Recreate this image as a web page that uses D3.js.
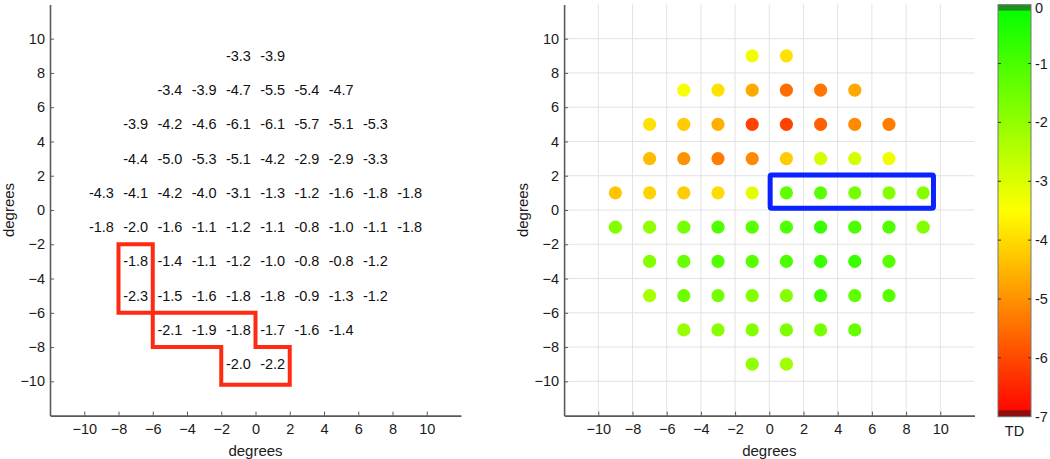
<!DOCTYPE html>
<html><head><meta charset="utf-8">
<script src="https://cdn.jsdelivr.net/npm/d3@7"></script>
<style>
body{margin:0;background:#fff;}
svg text{font-family:"Liberation Sans",Arial,sans-serif;}
</style></head>
<body><svg id="c" width="1050" height="459"></svg>
<script>
// Data: total deviation (TD) values per row, y coordinate and x coordinates
const rowY = [9, 7, 5, 3, 1, -1, -3, -5, -7, -9];
const rowX = [
  [-1, 1],
  [-5, -3, -1, 1, 3, 5],
  [-7, -5, -3, -1, 1, 3, 5, 7],
  [-7, -5, -3, -1, 1, 3, 5, 7],
  [-9, -7, -5, -3, -1, 1, 3, 5, 7, 9],
  [-9, -7, -5, -3, -1, 1, 3, 5, 7, 9],
  [-7, -5, -3, -1, 1, 3, 5, 7],
  [-7, -5, -3, -1, 1, 3, 5, 7],
  [-5, -3, -1, 1, 3, 5],
  [-1, 1]
];
const rowValues = [
  [-3.3, -3.9],
  [-3.4, -3.9, -4.7, -5.5, -5.4, -4.7],
  [-3.9, -4.2, -4.6, -6.1, -6.1, -5.7, -5.1, -5.3],
  [-4.4, -5.0, -5.3, -5.1, -4.2, -2.9, -2.9, -3.3],
  [-4.3, -4.1, -4.2, -4.0, -3.1, -1.3, -1.2, -1.6, -1.8, -1.8],
  [-1.8, -2.0, -1.6, -1.1, -1.2, -1.1, -0.8, -1.0, -1.1, -1.8],
  [-1.8, -1.4, -1.1, -1.2, -1.0, -0.8, -0.8, -1.2],
  [-2.3, -1.5, -1.6, -1.8, -1.8, -0.9, -1.3, -1.2],
  [-2.1, -1.9, -1.8, -1.7, -1.6, -1.4],
  [-2.0, -2.2]
];
const axisTicks = [-10, -8, -6, -4, -2, 0, 2, 4, 6, 8, 10];
const colorTicks = [0, -1, -2, -3, -4, -5, -6, -7];
// Highlight outlines (data coordinates)
const redOutline = [[-8,-2],[-6,-2],[-6,-8],[-2,-8],[-2,-10.2],[2,-10.2],[2,-8],[0,-8],[0,-6],[-8,-6]];
const blueBox = {x0: 0.05, x1: 9.6, y0: 0.1, y1: 2.05};

const points = [];
rowY.forEach((y, i) => rowX[i].forEach((x, j) => points.push({x, y, v: rowValues[i][j]})));

const svg = d3.select("#c");
const FONT = 14.5;
const color = d3.scaleLinear().domain([-7, -3.5, 0]).range(["#ff0000", "#ffff00", "#00ff00"]).clamp(true);

function panel(x0, x1) {
  const xs = d3.scaleLinear().domain([-12, 12]).range([x0, x1]);
  const ys = d3.scaleLinear().domain([-12, 12]).range([415.6, 4.4]);
  return {xs, ys};
}

function drawAxes(g, xs, ys, labelX) {
  const ax = g.append("g").attr("transform", `translate(0,${ys(-12)})`)
    .call(d3.axisBottom(xs).tickValues(axisTicks).tickSizeInner(-4).tickSizeOuter(0).tickPadding(8));
  const ay = g.append("g").attr("transform", `translate(${xs(-12)},0)`)
    .call(d3.axisLeft(ys).tickValues(axisTicks).tickSizeInner(-4).tickSizeOuter(0).tickPadding(5));
  [ax, ay].forEach(a => {
    a.select(".domain").attr("stroke", "#5a5a5a").attr("stroke-width", 1.6);
    a.selectAll(".tick line").attr("stroke", "#5a5a5a");
    a.selectAll(".tick text").attr("font-size", FONT).attr("fill", "#1a1a1a")
      .attr("font-family", "Liberation Sans, Arial, sans-serif");
  });
  g.append("text").attr("x", xs(0)).attr("y", 450).attr("text-anchor", "middle")
    .attr("dominant-baseline", "central").attr("font-size", FONT + 0.5).attr("fill", "#1a1a1a").text("degrees");
  g.append("text").attr("transform", `translate(${labelX},${ys(0)}) rotate(-90)`)
    .attr("text-anchor", "middle").attr("dominant-baseline", "central")
    .attr("font-size", FONT + 0.5).attr("fill", "#1a1a1a").text("degrees");
}

// Left panel
{
  const {xs, ys} = panel(50, 461);
  const g = svg.append("g");
  g.selectAll("text.val").data(points).join("text").attr("class", "val")
    .attr("x", d => xs(d.x)).attr("y", d => ys(d.y))
    .attr("text-anchor", "middle").attr("dominant-baseline", "central")
    .attr("font-size", FONT).attr("fill", "#111")
    .text(d => d.v.toFixed(1));
  g.append("path")
    .attr("d", d3.line().x(d => xs(d[0])).y(d => ys(d[1]))(redOutline) + "Z")
    .attr("fill", "none").attr("stroke", "#ff2a12").attr("stroke-width", 4).attr("stroke-linejoin", "miter");
  drawAxes(g, xs, ys, 8);
}

// Right panel
{
  const {xs, ys} = panel(564.1, 974.5);
  const g = svg.append("g");
  g.selectAll("line.gx").data(axisTicks).join("line")
    .attr("x1", d => xs(d)).attr("x2", d => xs(d)).attr("y1", ys(-12)).attr("y2", ys(12))
    .attr("stroke", "#e3e3e3").attr("stroke-width", 1);
  g.selectAll("line.gy").data(axisTicks).join("line")
    .attr("y1", d => ys(d)).attr("y2", d => ys(d)).attr("x1", xs(-12)).attr("x2", xs(12))
    .attr("stroke", "#e3e3e3").attr("stroke-width", 1);
  g.selectAll("circle").data(points).join("circle")
    .attr("cx", d => xs(d.x)).attr("cy", d => ys(d.y)).attr("r", 6.6)
    .attr("fill", d => color(d.v));
  g.append("rect")
    .attr("x", xs(blueBox.x0)).attr("y", ys(blueBox.y1))
    .attr("width", xs(blueBox.x1) - xs(blueBox.x0)).attr("height", ys(blueBox.y0) - ys(blueBox.y1))
    .attr("rx", 1.5).attr("fill", "none").attr("stroke", "#0a22ff").attr("stroke-width", 5);
  drawAxes(g, xs, ys, 522);
}

// Colorbar
{
  const cs = d3.scaleLinear().domain([-7, 0]).range([416.7, 4.7]);
  const bx = 998, bw = 33;
  const defs = svg.append("defs");
  const grad = defs.append("linearGradient").attr("id", "cb").attr("x1", 0).attr("x2", 0).attr("y1", 1).attr("y2", 0);
  d3.range(-7, 0.01, 0.5).forEach(v => {
    grad.append("stop").attr("offset", (v + 7) / 7).attr("stop-color", color(v));
  });
  const g = svg.append("g");
  g.append("rect").attr("x", bx).attr("y", cs(0)).attr("width", bw).attr("height", cs(-7) - cs(0))
    .attr("fill", "url(#cb)");
  g.append("rect").attr("x", bx).attr("y", cs(0)).attr("width", bw).attr("height", cs(-0.1) - cs(0))
    .attr("fill", "#1f8f1f");
  g.append("rect").attr("x", bx).attr("y", cs(-6.89)).attr("width", bw).attr("height", cs(-7) - cs(-6.89))
    .attr("fill", "#8e0d0d");
  g.append("rect").attr("x", bx).attr("y", cs(0)).attr("width", bw).attr("height", cs(-7) - cs(0))
    .attr("fill", "none").attr("stroke", "#777").attr("stroke-width", 1);
  const ticks = colorTicks.filter(v => v !== 0 && v !== -7);
  g.selectAll("line.tl").data(ticks).join("line")
    .attr("x1", bx).attr("x2", bx + 3).attr("y1", d => cs(d)).attr("y2", d => cs(d)).attr("stroke", "#333");
  g.selectAll("line.tr").data(ticks).join("line")
    .attr("x1", bx + bw - 3).attr("x2", bx + bw).attr("y1", d => cs(d)).attr("y2", d => cs(d)).attr("stroke", "#333");
  g.selectAll("text.cl").data(colorTicks).join("text")
    .attr("x", bx + bw + 4).attr("y", d => d === 0 ? 8 : cs(d)).attr("dominant-baseline", "central")
    .attr("font-size", FONT).attr("fill", "#1a1a1a").text(d => d === 0 ? "0" : "-" + Math.abs(d));
  g.append("text").attr("x", bx + bw / 2).attr("y", 431).attr("text-anchor", "middle")
    .attr("dominant-baseline", "central").attr("font-size", FONT).attr("fill", "#1a1a1a").text("TD");
}
</script></body></html>
